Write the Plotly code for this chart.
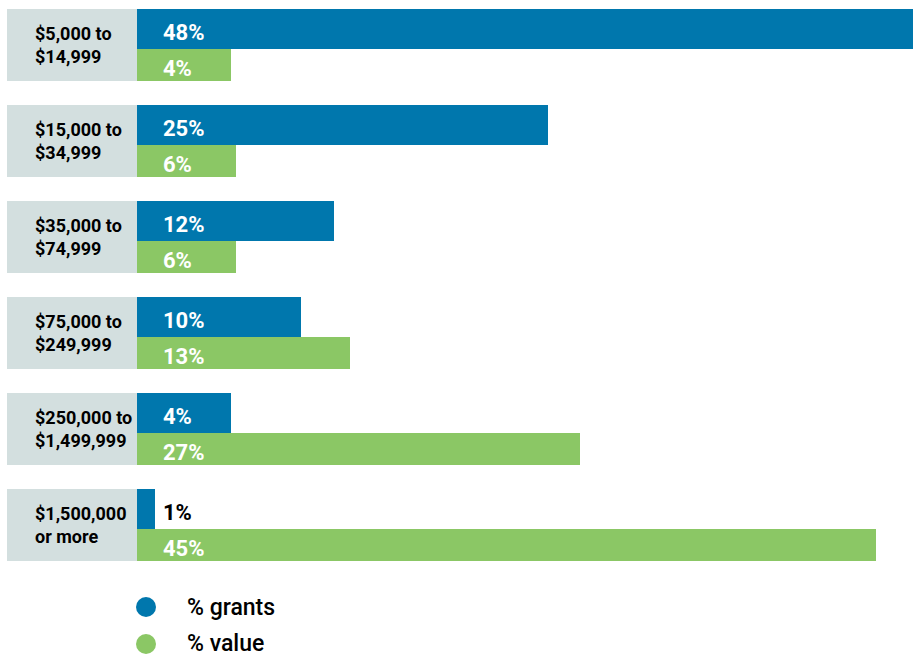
import plotly.graph_objects as go

categories = ["$5,000 to<br>$14,999", "$15,000 to<br>$34,999", "$35,000 to<br>$74,999",
              "$75,000 to<br>$249,999", "$250,000 to<br>$1,499,999", "$1,500,000<br>or more"]
grants_labels = ["48%", "25%", "12%", "10%", "4%", "1%"]
value_labels = ["4%", "6%", "6%", "13%", "27%", "45%"]
# bar lengths as drawn in the picture (small bars are drawn wider than their label)
grants_bar = [48, 25, 12, 10, 5.7, 1.1]
value_bar = [5.7, 6.0, 6.0, 13.0, 27.0, 45.0]
grants_label_color = ["white", "white", "white", "white", "white", "black"]

BLUE = "#0077AD"
GREEN = "#8BC765"
GREY = "#D3DFDF"
FONT = "Roboto, sans-serif"

W, H = 913, 656
L, R, T, B = 137, 913, 9, 561
plot_w = R - L
plot_h = B - T

ypos = list(range(len(categories)))

fig = go.Figure()
fig.add_trace(go.Bar(x=grants_bar, y=ypos, orientation="h", marker=dict(color=BLUE, line=dict(width=0)),
                     width=40/96, offset=-0.375, showlegend=False, hoverinfo="skip"))
fig.add_trace(go.Bar(x=value_bar, y=ypos, orientation="h", marker=dict(color=GREEN, line=dict(width=0)),
                     width=32/96, offset=-0.375 + 40/96, showlegend=False, hoverinfo="skip"))

shapes = []
annotations = []
for i, cat in enumerate(categories):
    shapes.append(dict(type="rect", xref="paper", yref="y", x0=(7 - L) / plot_w, x1=0,
                       y0=i - 0.375, y1=i + 0.375, fillcolor=GREY, line=dict(width=0), layer="below"))
    annotations.append(dict(xref="paper", yref="y", x=(33 - L) / plot_w, y=i, text=cat,
                            xanchor="left", yanchor="middle", align="left", showarrow=False,
                            font=dict(family=FONT, size=18, color="black", weight="bold")))
    annotations.append(dict(xref="x", yref="y", x=0, xshift=24, y=i - 16/96, yshift=-3,
                            text=grants_labels[i], xanchor="left", yanchor="middle", showarrow=False,
                            font=dict(family=FONT, size=22, color=grants_label_color[i], weight="bold")))
    annotations.append(dict(xref="x", yref="y", x=0, xshift=24, y=i + 20/96, yshift=-3,
                            text=value_labels[i], xanchor="left", yanchor="middle", showarrow=False,
                            font=dict(family=FONT, size=22, color="white", weight="bold")))

for txt, col, py in [("% grants", BLUE, 607), ("% value", GREEN, 644)]:
    yp = (B - py) / plot_h
    shapes.append(dict(type="circle", xref="paper", yref="paper", xsizemode="pixel", ysizemode="pixel",
                       xanchor=(146 - L) / plot_w, yanchor=yp, x0=-10, x1=10, y0=-10, y1=10,
                       fillcolor=col, line=dict(width=0)))
    annotations.append(dict(xref="paper", yref="paper", x=(185 - L) / plot_w, y=yp, text=txt,
                            xanchor="left", yanchor="middle", showarrow=False,
                            font=dict(family=FONT, size=23, color="black", weight=500)))

fig.update_layout(
    width=W, height=H,
    margin=dict(l=L, r=W - R, t=T, b=H - B, pad=0),
    paper_bgcolor="white", plot_bgcolor="white",
    xaxis=dict(range=[0, 776 / 16.42], visible=False, fixedrange=True),
    yaxis=dict(range=[5.375, -0.375], visible=False, fixedrange=True),
    shapes=shapes, annotations=annotations, bargap=0,
)
fig.write_html("out.html", config=dict(displayModeBar=False),
               post_script="document.body.style.margin='0';document.body.style.overflow='hidden';")
